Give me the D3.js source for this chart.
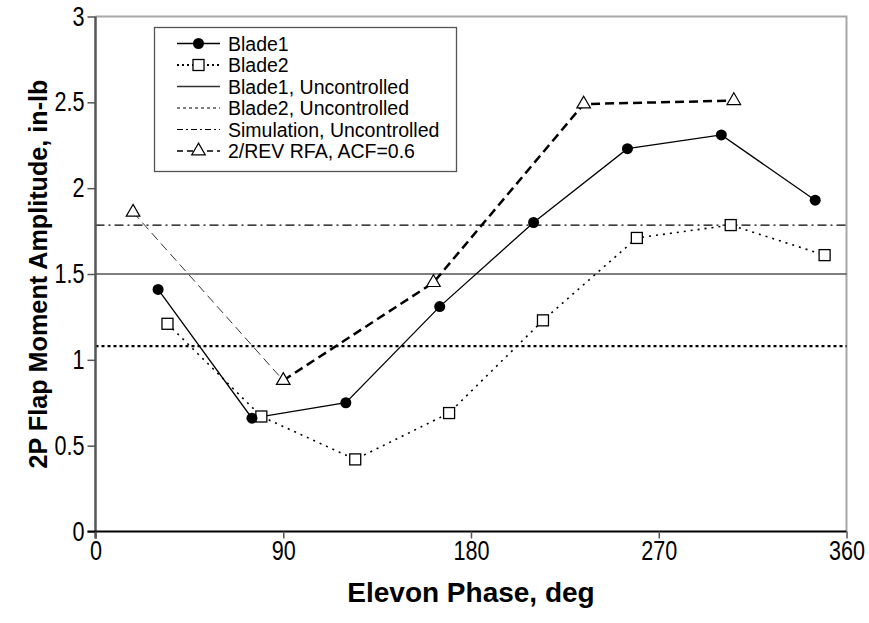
<!DOCTYPE html>
<html>
<head>
<meta charset="utf-8">
<script src="https://cdn.jsdelivr.net/npm/d3@7"></script>
<style>
  html, body { margin: 0; padding: 0; background: #fff; }
  svg { display: block; font-family: "Liberation Sans", Arial, sans-serif; }
</style>
</head>
<body>
<svg id="chart" width="869" height="623"></svg>
<script>
// Measured 2P flap moment amplitude vs. elevon phase
const blade1Phase = [30, 75, 120, 165, 210, 255, 300, 345];
const blade1Amp   = [1.41, 0.66, 0.75, 1.31, 1.80, 2.23, 2.31, 1.93];

const blade2Phase = [34.5, 79.5, 124.5, 169.5, 214.5, 259.5, 304.5, 349.5];
const blade2Amp   = [1.21, 0.67, 0.42, 0.69, 1.23, 1.71, 1.785, 1.61];

const rfaPhase = [18, 90, 162, 234, 306];
const rfaAmp   = [1.86, 0.88, 1.45, 2.49, 2.51];

// Uncontrolled reference levels
const blade1Unc = 1.5;
const blade2Unc = 1.08;
const simUnc    = 1.785;

const xTicks = [0, 90, 180, 270, 360];
const yTicks = [0, 0.5, 1, 1.5, 2, 2.5, 3];

const legendLabels = [
  "Blade1", "Blade2", "Blade1, Uncontrolled", "Blade2, Uncontrolled",
  "Simulation, Uncontrolled", "2/REV RFA, ACF=0.6"
];

const svg = d3.select("#chart");
const L = 95.5, R = 846.5, T = 16.5, B = 531.5;
const squeeze = 0.8; // narrow the tick-label glyphs horizontally

const x = d3.scaleLinear().domain([0, 360]).range([L, R]);
const y = d3.scaleLinear().domain([0, 3]).range([B, T]);

// Plot frame (top and right edges)
svg.append("path")
  .attr("d", `M${L},${T}H${R}V${B}`)
  .attr("fill", "none").attr("stroke", "#a8a8a8").attr("stroke-width", 2);

// Horizontal uncontrolled levels
const hline = (v, stroke, width, dash) => svg.append("line")
  .attr("x1", x(0)).attr("x2", x(360)).attr("y1", y(v)).attr("y2", y(v))
  .attr("stroke", stroke).attr("stroke-width", width)
  .attr("stroke-dasharray", dash);
hline(blade1Unc, "#555", 1.6, null);
hline(blade2Unc, "#000", 2.2, "3,3");
hline(simUnc, "#000", 1.1, "9,4,2,4");

// Axes
const yAxis = d3.axisLeft(y).tickValues(yTicks).tickSize(8).tickPadding(3)
  .tickFormat(d => d);
const gy = svg.append("g").attr("transform", `translate(${L},0)`).call(yAxis);
gy.select(".domain").attr("stroke", "#555").attr("stroke-width", 2.5)
  .attr("d", `M0,${T}V${B + 7}`);
gy.selectAll(".tick line").attr("stroke", "#555").attr("stroke-width", 1.5);
gy.selectAll(".tick text").attr("font-size", 27).attr("fill", "#000")
  .attr("font-family", "Liberation Sans, Arial, sans-serif")
  .attr("x", -11 / squeeze).attr("transform", `scale(${squeeze},1)`);

const xAxis = d3.axisBottom(x).tickValues(xTicks).tickSize(7).tickPadding(2)
  .tickFormat(d => d);
const gx = svg.append("g").attr("transform", `translate(0,${B})`).call(xAxis);
gx.select(".domain").attr("stroke", "#000").attr("stroke-width", 2)
  .attr("d", `M${L - 8},0H${R}`);
gx.selectAll(".tick line").attr("stroke", "#555").attr("stroke-width", 1.5);
gx.selectAll(".tick text").attr("font-size", 27).attr("fill", "#000")
  .attr("font-family", "Liberation Sans, Arial, sans-serif")
  .attr("transform", `scale(${squeeze},1)`);

// Axis titles
svg.append("text").attr("x", (L + R) / 2).attr("y", 602)
  .attr("text-anchor", "middle").attr("font-size", 28).attr("font-weight", "bold")
  .text("Elevon Phase, deg");
svg.append("text")
  .attr("transform", `translate(47,${(T + B) / 2}) rotate(-90)`)
  .attr("text-anchor", "middle").attr("font-size", 25.2).attr("font-weight", "bold")
  .text("2P Flap Moment Amplitude, in-lb");

const line = d3.line().x(d => x(d[0])).y(d => y(d[1]));
const b1 = blade1Phase.map((p, i) => [p, blade1Amp[i]]);
const b2 = blade2Phase.map((p, i) => [p, blade2Amp[i]]);
const rf = rfaPhase.map((p, i) => [p, rfaAmp[i]]);

// RFA series: thin first leg, heavy dashes thereafter
svg.append("path").attr("d", line(rf.slice(0, 2)))
  .attr("fill", "none").attr("stroke", "#333").attr("stroke-width", 1)
  .attr("stroke-dasharray", "9,5");
svg.append("path").attr("d", line(rf.slice(1)))
  .attr("fill", "none").attr("stroke", "#000").attr("stroke-width", 2.5)
  .attr("stroke-dasharray", "9,5");

// Blade2 dotted line
svg.append("path").attr("d", line(b2))
  .attr("fill", "none").attr("stroke", "#000").attr("stroke-width", 1.6)
  .attr("stroke-dasharray", "2,5");

// Blade1 solid line
svg.append("path").attr("d", line(b1))
  .attr("fill", "none").attr("stroke", "#000").attr("stroke-width", 1.3);

// Markers
const tri = d3.symbol().type(d3.symbolTriangle).size(80);
svg.selectAll(".tri").data(rf).join("path")
  .attr("transform", d => `translate(${x(d[0])},${y(d[1])})`)
  .attr("d", tri).attr("fill", "#fff").attr("stroke", "#000").attr("stroke-width", 1.2);

svg.selectAll(".sq").data(b2).join("rect")
  .attr("x", d => x(d[0]) - 5.5).attr("y", d => y(d[1]) - 5.5)
  .attr("width", 11).attr("height", 11)
  .attr("fill", "#fff").attr("stroke", "#000").attr("stroke-width", 1.3);

svg.selectAll(".dot").data(b1).join("circle")
  .attr("cx", d => x(d[0])).attr("cy", d => y(d[1])).attr("r", 5.5)
  .attr("fill", "#000");

// Legend
const lg = svg.append("g");
lg.append("rect").attr("x", 154.5).attr("y", 27.5).attr("width", 302).attr("height", 144)
  .attr("fill", "#fff").attr("stroke", "#555").attr("stroke-width", 1.3);
const rowY = i => 43.5 + i * 21.5;
const sx1 = 177, sx2 = 220, sxm = (sx1 + sx2) / 2;
const seg = (i, stroke, width, dash) => lg.append("line")
  .attr("x1", sx1).attr("x2", sx2).attr("y1", rowY(i)).attr("y2", rowY(i))
  .attr("stroke", stroke).attr("stroke-width", width).attr("stroke-dasharray", dash);
seg(0, "#000", 1.3, null);
lg.append("circle").attr("cx", sxm).attr("cy", rowY(0)).attr("r", 5.5).attr("fill", "#000");
seg(1, "#000", 1.8, "2,3");
lg.append("rect").attr("x", sxm - 5.5).attr("y", rowY(1) - 5.5).attr("width", 11).attr("height", 11)
  .attr("fill", "#fff").attr("stroke", "#000").attr("stroke-width", 1.3);
seg(2, "#333", 1.3, null);
seg(3, "#000", 1.2, "3,3");
seg(4, "#000", 1.1, "6,3,2,3");
seg(5, "#000", 1.3, "6,4");
lg.append("path").attr("transform", `translate(${sxm},${rowY(5)})`)
  .attr("d", tri).attr("fill", "#fff").attr("stroke", "#000").attr("stroke-width", 1.2);
lg.selectAll(".lt").data(legendLabels).join("text")
  .attr("x", 228).attr("y", (d, i) => rowY(i) + 7)
  .attr("font-size", 19.5).attr("fill", "#000").text(d => d);
</script>
</body>
</html>
